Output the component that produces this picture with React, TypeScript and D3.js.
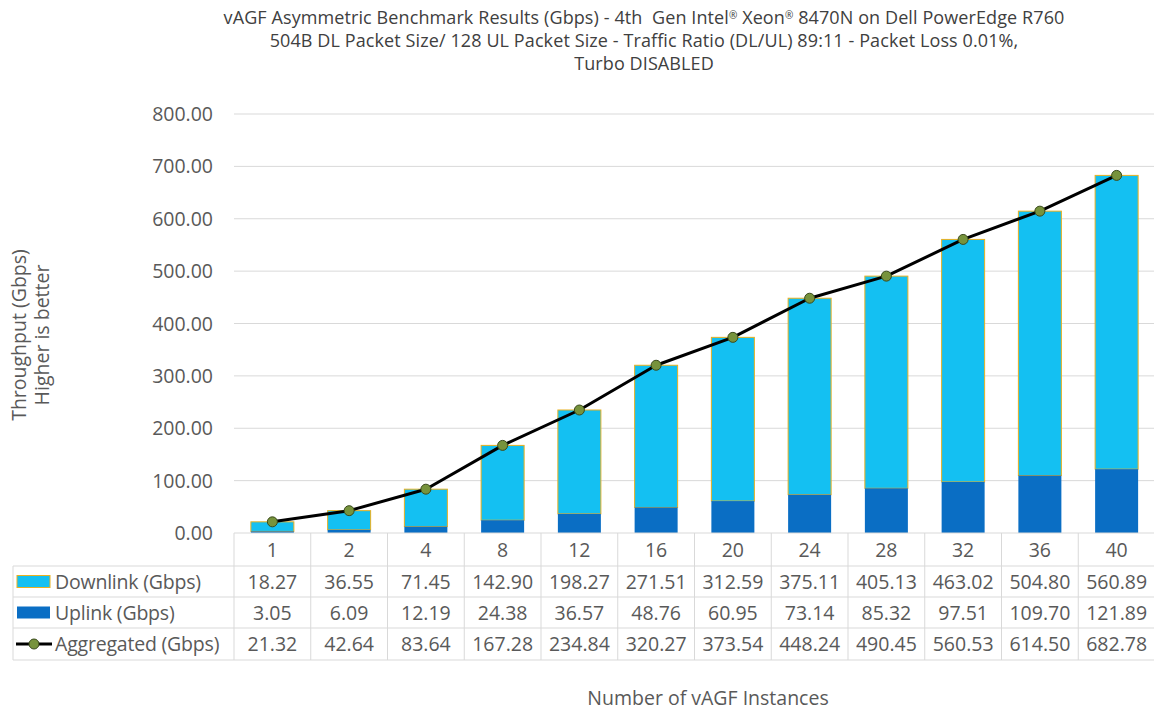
import React from "react";
import * as d3 from "d3";

const categories = ["1", "2", "4", "8", "12", "16", "20", "24", "28", "32", "36", "40"];
const downlink = [18.27, 36.55, 71.45, 142.9, 198.27, 271.51, 312.59, 375.11, 405.13, 463.02, 504.8, 560.89];
const uplink = [3.05, 6.09, 12.19, 24.38, 36.57, 48.76, 60.95, 73.14, 85.32, 97.51, 109.7, 121.89];
const aggregated = [21.32, 42.64, 83.64, 167.28, 234.84, 320.27, 373.54, 448.24, 490.45, 560.53, 614.5, 682.78];
const yTicks = [0, 100, 200, 300, 400, 500, 600, 700, 800];
const titleLines = [
  "vAGF Asymmetric Benchmark Results (Gbps) - 4th \u00a0Gen Intel\u00ae Xeon\u00ae 8470N on Dell PowerEdge R760",
  "504B DL Packet Size/ 128 UL Packet Size - Traffic Ratio (DL/UL) 89:11 - Packet Loss 0.01%,",
  "Turbo DISABLED",
];

const W = 1154, H = 711;
const left = 234, right = 1155, top = 114, bottom = 533;
const rowH = [33, 31, 31, 32];
const tableLeft = 13;
const DL = "#14C0F2", UL = "#0A6EC4", GRID = "#D9D9D9", TXT = "#595959";
const FONT = "'Open Sans', 'Noto Sans', sans-serif";

function renderTitle(t: string) {
  const parts = t.split("\u00ae");
  const out: React.ReactNode[] = [];
  parts.forEach((p, i) => {
    out.push(<tspan key={"p" + i} dy={i === 0 ? 0 : 5}>{p}</tspan>);
    if (i < parts.length - 1) out.push(<tspan key={"r" + i} fontSize={10} dy={-5}>{"\u00ae"}</tspan>);
  });
  return out;
}

export default function App() {
  const band = (right - left) / categories.length;
  const cx = (i: number) => left + band * (i + 0.5);
  const y = d3.scaleLinear().domain([0, 800]).range([bottom, top]);
  const bw = 43;
  const line = d3.line<number>().x((_, i) => cx(i)).y((d) => y(d));
  const rowTops = [bottom, bottom + rowH[0], bottom + rowH[0] + rowH[1], bottom + rowH[0] + rowH[1] + rowH[2]];
  const tableBottom = rowTops[3] + rowH[3];
  const rows = [
    { name: "Downlink (Gbps)", vals: downlink },
    { name: "Uplink (Gbps)", vals: uplink },
    { name: "Aggregated (Gbps)", vals: aggregated },
  ];
  return (
    <svg width={W} height={H} style={{ position: "absolute", left: 0, top: 0, background: "#fff" }} fontFamily={FONT}>
      {titleLines.map((t, i) => (
        <text key={i} x={644} y={24 + i * 23} textAnchor="middle" fontSize={18} fill="#404040"
          fontFamily={FONT} letterSpacing={0.1}>{renderTitle(t)}</text>
      ))}
      {yTicks.map((t) => (
        <g key={t}>
          {t > 0 && <line x1={left} x2={right} y1={y(t)} y2={y(t)} stroke={GRID} strokeWidth={1} />}
          <text x={213} y={y(t) + 7} textAnchor="end" fontSize={19.5} fill={TXT}>{t.toFixed(2)}</text>
        </g>
      ))}
      {categories.map((c, i) => (
        <g key={c}>
          <rect x={cx(i) - bw / 2} y={y(uplink[i] + downlink[i])} width={bw} height={y(uplink[i]) - y(uplink[i] + downlink[i])}
            fill={DL} stroke="#E8B020" strokeWidth={1} />
          <rect x={cx(i) - bw / 2} y={y(uplink[i])} width={bw} height={bottom - y(uplink[i])} fill={UL} />
        </g>
      ))}
      <path d={line(aggregated) || ""} fill="none" stroke="#000" strokeWidth={3} strokeLinejoin="round" />
      {aggregated.map((v, i) => (
        <circle key={i} cx={cx(i)} cy={y(v)} r={5} fill="#77933C" stroke="#3A4A1C" strokeWidth={1} />
      ))}
      <line x1={left} x2={right} y1={bottom} y2={bottom} stroke={GRID} />
      {rowTops.slice(1).map((ry, i) => (
        <line key={i} x1={tableLeft} x2={right} y1={ry} y2={ry} stroke={GRID} />
      ))}
      <line x1={tableLeft} x2={right} y1={tableBottom} y2={tableBottom} stroke={GRID} />
      <line x1={tableLeft} x2={tableLeft} y1={rowTops[1]} y2={tableBottom} stroke={GRID} />
      {d3.range(categories.length + 1).map((k) => (
        <line key={k} x1={left + k * band} x2={left + k * band} y1={bottom} y2={tableBottom} stroke={GRID} />
      ))}
      {categories.map((c, i) => (
        <text key={c} x={cx(i)} y={rowTops[0] + rowH[0] / 2 + 7} textAnchor="middle" fontSize={19.5} fill={TXT}>{c}</text>
      ))}
      {rows.map((r, ri) => {
        const ry = rowTops[ri + 1];
        const mid = ry + rowH[ri + 1] / 2;
        return (
          <g key={r.name}>
            {ri === 0 && <rect x={17} y={mid - 6} width={33} height={12} fill={DL} stroke="#E8B020" strokeWidth={1} />}
            {ri === 1 && <rect x={17} y={mid - 6} width={33} height={12} fill={UL} />}
            {ri === 2 && (
              <g>
                <line x1={16} x2={52} y1={mid} y2={mid} stroke="#000" strokeWidth={3} />
                <circle cx={34} cy={mid} r={5} fill="#77933C" stroke="#3A4A1C" />
              </g>
            )}
            <text x={55} y={mid + 7} fontSize={19.5} fill={TXT} letterSpacing={-0.2}>{r.name}</text>
            {r.vals.map((v, i) => (
              <text key={i} x={cx(i)} y={mid + 7} textAnchor="middle" fontSize={19.5} fill={TXT}>{v.toFixed(2)}</text>
            ))}
          </g>
        );
      })}
      <text transform="translate(26,335) rotate(-90)" textAnchor="middle" fontSize={19.5} fill={TXT}>Throughput (Gbps)</text>
      <text transform="translate(49,335) rotate(-90)" textAnchor="middle" fontSize={19.5} fill={TXT}>Higher is better</text>
      <text x={708} y={705} textAnchor="middle" fontSize={19.5} fill={TXT}>Number of vAGF Instances</text>
    </svg>
  );
}
